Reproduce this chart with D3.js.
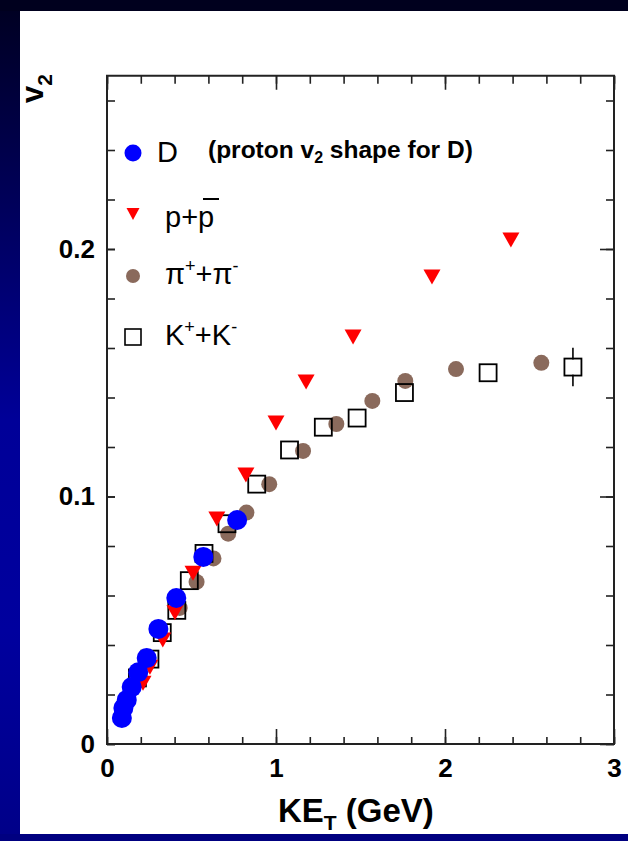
<!DOCTYPE html>
<html>
<head>
<meta charset="utf-8">
<script src="https://cdn.jsdelivr.net/npm/d3@7"></script>
<style>
  body { margin: 0; background: #fff; }
  svg { display: block; }
  text { font-family: "Liberation Sans", Arial, Helvetica, sans-serif; }
</style>
</head>
<body>
<svg id="chart" width="628" height="841"></svg>
<script>
// ---- data ----
const dX  = [0.088, 0.097, 0.117, 0.146, 0.185, 0.235, 0.304, 0.41, 0.57, 0.77];
const dY  = [0.0105, 0.0145, 0.0178, 0.023, 0.029, 0.0347, 0.0465, 0.059, 0.0756, 0.0905];

const pX  = [0.213, 0.254, 0.33, 0.402, 0.509, 0.65, 0.822, 1.0, 1.178, 1.456, 1.923, 2.39];
const pY  = [0.0245, 0.031, 0.042, 0.053, 0.069, 0.0909, 0.1087, 0.1297, 0.1463, 0.1644, 0.1887, 0.2036];

const piX = [0.43, 0.53, 0.63, 0.717, 0.825, 0.96, 1.16, 1.357, 1.57, 1.765, 2.065, 2.57];
const piY = [0.055, 0.0655, 0.075, 0.085, 0.0935, 0.105, 0.1184, 0.1293, 0.1386, 0.1467, 0.1515, 0.154];

const kX  = [0.18, 0.254, 0.327, 0.413, 0.487, 0.574, 0.71, 0.886, 1.08, 1.28, 1.48, 1.76, 2.255, 2.757];
const kY  = [0.0267, 0.0343, 0.045, 0.054, 0.066, 0.077, 0.089, 0.105, 0.1188, 0.128, 0.1317, 0.142, 0.15, 0.1523];
const kErr= [0, 0, 0, 0, 0, 0, 0, 0, 0, 0, 0, 0, 0, 0.0078];

const xMajor = [0, 1, 2, 3];
const xMinor = d3.range(0, 3.001, 0.2);
const yMajor = [0, 0.1, 0.2];
const yMinor = d3.range(0, 0.2701, 0.02);

// ---- layout ----
const svg = d3.select("#chart");
const W = 628, H = 841;
const L = 107, R = 614, T = 75.75, B = 744;

const x = d3.scaleLinear().domain([0, 3]).range([L, R]);
const y = d3.scaleLinear().domain([0, 0.27]).range([B, T]);

// ---- background frame ----
const defs = svg.append("defs");
const grad = defs.append("linearGradient").attr("id", "lg").attr("x1", 0).attr("y1", 0).attr("x2", 0).attr("y2", 1);
grad.append("stop").attr("offset", 0).attr("stop-color", "#000020");
grad.append("stop").attr("offset", 0.5).attr("stop-color", "#000098");
grad.append("stop").attr("offset", 0.75).attr("stop-color", "#00009e");
grad.append("stop").attr("offset", 1).attr("stop-color", "#000088");

svg.append("rect").attr("x", 0).attr("y", 0).attr("width", W).attr("height", H).attr("fill", "#fff");
svg.append("rect").attr("x", 0).attr("y", 0).attr("width", 20).attr("height", H).attr("fill", "url(#lg)");
svg.append("rect").attr("x", 0).attr("y", 0).attr("width", W).attr("height", 11).attr("fill", "#00001e");
svg.append("rect").attr("x", 0).attr("y", 834).attr("width", W).attr("height", 7).attr("fill", "#000080");

// ---- axes (inward ticks on all 4 sides) ----
const axisColor = "#222";
function styleAxis(g) {
  g.select(".domain").remove();
  g.selectAll(".tick line").attr("stroke", axisColor).attr("stroke-width", 1.6);
}
// bottom
svg.append("g").attr("transform", `translate(0,${B})`)
  .call(d3.axisBottom(x).tickValues(xMinor).tickSize(-7).tickFormat(""))
  .call(styleAxis);
const xb = svg.append("g").attr("transform", `translate(0,${B})`)
  .call(d3.axisBottom(x).tickValues(xMajor).tickSize(-15).tickPadding(14.5).tickFormat(d3.format("d")))
  .call(styleAxis);
xb.selectAll("text").attr("font-size", 26).attr("font-weight", "bold").attr("fill", "#000");
// top
svg.append("g").attr("transform", `translate(0,${T})`)
  .call(d3.axisTop(x).tickValues(xMinor).tickSize(-8).tickFormat(""))
  .call(styleAxis);
svg.append("g").attr("transform", `translate(0,${T})`)
  .call(d3.axisTop(x).tickValues(xMajor).tickSize(-14).tickFormat(""))
  .call(styleAxis);
// left
svg.append("g").attr("transform", `translate(${L},0)`)
  .call(d3.axisLeft(y).tickValues(yMinor).tickSize(-8).tickFormat(""))
  .call(styleAxis);
const yl = svg.append("g").attr("transform", `translate(${L},0)`)
  .call(d3.axisLeft(y).tickValues(yMajor).tickSize(-8).tickPadding(12)
    .tickFormat(d => d === 0 ? "0" : d3.format(".1f")(d)))
  .call(styleAxis);
yl.selectAll("text").attr("font-size", 26).attr("font-weight", "bold").attr("fill", "#000");
// right
svg.append("g").attr("transform", `translate(${R},0)`)
  .call(d3.axisRight(y).tickValues(yMinor).tickSize(-8).tickFormat(""))
  .call(styleAxis);
svg.append("g").attr("transform", `translate(${R},0)`)
  .call(d3.axisRight(y).tickValues(yMajor).tickSize(-14).tickFormat(""))
  .call(styleAxis);

// frame
svg.append("rect").attr("x", L).attr("y", T).attr("width", R - L).attr("height", B - T)
  .attr("fill", "none").attr("stroke", axisColor).attr("stroke-width", 2);

// ---- axis titles ----
const xt = svg.append("text").attr("x", 278).attr("y", 822)
  .attr("font-size", 33).attr("font-weight", "bold").attr("fill", "#000");
xt.append("tspan").text("KE");
xt.append("tspan").attr("font-size", 21).attr("dy", 8).text("T");
xt.append("tspan").attr("dy", -8).text(" (GeV)");

const yt = svg.append("text").attr("transform", "translate(43,103) rotate(-90)")
  .attr("font-size", 31).attr("font-weight", "bold").attr("fill", "#000");
yt.append("tspan").text("v");
yt.append("tspan").attr("font-size", 21).attr("dy", 9).text("2");

// ---- markers ----
const brown = "#8a6a5c";
const tri = (w, h) => `M${-w/2},${-h/2}L${w/2},${-h/2}L0,${h/2}Z`;

// pions
svg.append("g").selectAll("circle").data(d3.zip(piX, piY)).join("circle")
  .attr("cx", d => x(d[0])).attr("cy", d => y(d[1])).attr("r", 8).attr("fill", brown);

// kaons (open squares + error bars)
const kData = d3.zip(kX, kY, kErr);
const kg = svg.append("g");
kg.selectAll("line.err").data(kData.filter(d => d[2] > 0)).join("line")
  .attr("class", "err")
  .attr("x1", d => x(d[0])).attr("x2", d => x(d[0]))
  .attr("y1", d => y(d[1] + d[2])).attr("y2", d => y(d[1] - d[2]))
  .attr("stroke", "#000").attr("stroke-width", 1.6);
kg.selectAll("rect.fillbox").data(kData.filter(d => d[2] > 0)).join("rect")
  .attr("class", "fillbox")
  .attr("x", d => x(d[0]) - 7.6).attr("y", d => y(d[1]) - 7.6)
  .attr("width", 15.2).attr("height", 15.2).attr("fill", "#fff");
kg.selectAll("rect.box").data(kData).join("rect")
  .attr("class", "box")
  .attr("x", d => x(d[0]) - 8.5).attr("y", d => y(d[1]) - 8.5)
  .attr("width", 17).attr("height", 17)
  .attr("fill", "none").attr("stroke", "#000").attr("stroke-width", 1.8);

// protons
svg.append("g").selectAll("path").data(d3.zip(pX, pY)).join("path")
  .attr("transform", d => `translate(${x(d[0])},${y(d[1])})`)
  .attr("d", tri(17, 15)).attr("fill", "#ff0000");

// D
svg.append("g").selectAll("circle").data(d3.zip(dX, dY)).join("circle")
  .attr("cx", d => x(d[0])).attr("cy", d => y(d[1])).attr("r", 10).attr("fill", "#0000ff");

// ---- legend ----
const lg = svg.append("g");
lg.append("circle").attr("cx", 133).attr("cy", 153).attr("r", 8.5).attr("fill", "#0000ff");
lg.append("text").attr("x", 157).attr("y", 162).attr("font-size", 29).text("D");
const note = lg.append("text").attr("x", 208).attr("y", 158).attr("font-size", 24.5).attr("font-weight", "bold");
note.append("tspan").text("(proton v");
note.append("tspan").attr("font-size", 16).attr("dy", 5).text("2");
note.append("tspan").attr("dy", -5).text(" shape for D)");

lg.append("path").attr("transform", "translate(133,214)").attr("d", tri(13, 12)).attr("fill", "#ff0000");
const pp = lg.append("text").attr("x", 165).attr("y", 227).attr("font-size", 29);
pp.append("tspan").text("p+p");
lg.append("line").attr("x1", 203).attr("x2", 219).attr("y1", 199).attr("y2", 199).attr("stroke", "#000").attr("stroke-width", 2);

lg.append("circle").attr("cx", 133).attr("cy", 276).attr("r", 7).attr("fill", brown);
const pi = lg.append("text").attr("x", 165).attr("y", 284).attr("font-size", 29);
pi.append("tspan").text("π");
pi.append("tspan").attr("font-size", 18).attr("dy", -12).text("+");
pi.append("tspan").attr("dy", 12).text("+π");
pi.append("tspan").attr("font-size", 18).attr("dy", -12).text("-");

lg.append("rect").attr("x", 125).attr("y", 329).attr("width", 16).attr("height", 16)
  .attr("fill", "none").attr("stroke", "#000").attr("stroke-width", 1.6);
const kk = lg.append("text").attr("x", 165).attr("y", 345).attr("font-size", 29);
kk.append("tspan").text("K");
kk.append("tspan").attr("font-size", 18).attr("dy", -12).text("+");
kk.append("tspan").attr("dy", 12).text("+K");
kk.append("tspan").attr("font-size", 18).attr("dy", -12).text("-");
</script>
</body>
</html>
